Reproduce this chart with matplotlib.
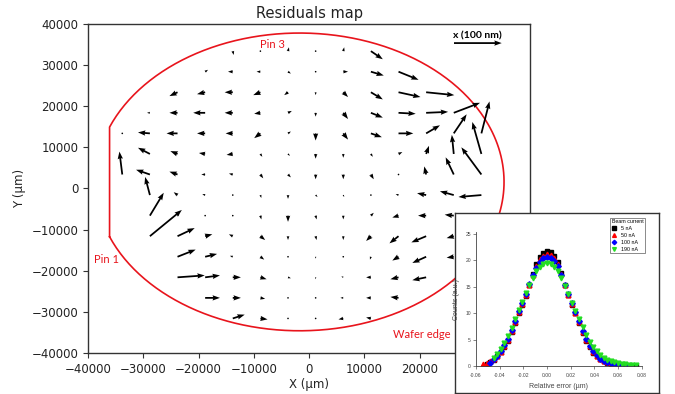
import numpy as np
import matplotlib
matplotlib.use("Agg")
import matplotlib.pyplot as plt

# --- residual vectors (nm) on the die grid, one list per grid row ----------
row_y = [33400, 28400, 23400, 18400, 13400, 8400, 3400,
         -1600, -6600, -11600, -16600, -21600, -26600, -31600]
row_x = [
    [-13800, -8800, -3800, 1200, 6200, 11200],
    [-18800, -13800, -8800, -3800, 1200, 6200, 11200, 16200],
    [-23800, -18800, -13800, -8800, -3800, 1200, 6200, 11200, 16200, 21200],
    [-28800, -23800, -18800, -13800, -8800, -3800, 1200, 6200, 11200, 16200, 21200, 26200],
    [-33800, -28800, -23800, -18800, -13800, -8800, -3800, 1200, 6200, 11200, 16200, 21200, 26200, 31200],
    [-28800, -23800, -18800, -13800, -8800, -3800, 1200, 6200, 11200, 16200, 21200, 26200, 31200],
    [-33800, -28800, -23800, -18800, -13800, -8800, -3800, 1200, 6200, 11200, 16200, 21200, 26200, 31200],
    [-28800, -23800, -18800, -13800, -8800, -3800, 1200, 6200, 11200, 16200, 21200, 26200, 31200],
    [-28800, -23800, -18800, -13800, -8800, -3800, 1200, 6200, 11200, 16200, 21200, 26200],
    [-28800, -23800, -18800, -13800, -8800, -3800, 1200, 6200, 11200, 16200, 21200, 26200],
    [-23800, -18800, -13800, -8800, -3800, 1200, 6200, 11200, 16200, 21200, 26200],
    [-23800, -18800, -13800, -8800, -3800, 1200, 6200, 11200, 16200, 21200],
    [-18800, -13800, -8800, -3800, 1200, 6200, 11200, 16200],
    [-13800, -8800, -3800, 1200, 6200, 11200],
]
row_u = [
    [2, 1, 2, 0, 2, 25],
    [6, -10, -8, 6, 2, 10, 27, 42],
    [-17, -17, -17, -15, -8, 0, 10, 25, 46, 59],
    [-6, -17, -25, -17, -13, 8, 0, 10, 25, 36, 46, 55],
    [-2, -25, -23, -17, -15, -13, 6, 0, 10, 23, 31, 29, 27, 17],
    [-25, -15, -13, -13, 4, 4, 0, 0, 4, 8, 6, -4, -19],
    [-6, -29, -17, -8, -8, 6, 6, 0, 0, 6, 1, -4, -17, -42],
    [-10, -8, -6, 0, 2, 0, 4, 2, 1, -6, -19, -29, -48],
    [29, 4, 1, 0, 2, 0, 2, 0, 6, -13, -17, -19],
    [67, 36, 15, -8, 10, 0, 2, 0, -10, -19, -31, -15],
    [38, 25, -6, 8, 0, 0, 1, -2, -13, -29, -15],
    [57, 31, 17, 13, 6, 0, -4, -10, -17, -29],
    [31, 17, 10, 1, 1, -6, -10, -17],
    [25, 15, 1, 1, -10, -10],
]
row_v = [
    [-8, 2, 8, 1, 8, -17],
    [4, 0, 0, -4, -2, 0, -8, -17],
    [-8, -4, 0, -6, -6, -6, -10, -15, -10, -6],
    [0, 0, 0, 0, -2, 4, -8, -13, -10, -2, 2, 21],
    [0, 2, 0, 0, 0, -10, 4, -15, -13, -8, 0, 17, 40, 67],
    [13, 6, 2, -2, -6, -4, -10, -8, -6, 4, 17, 40, 67],
    [48, 10, 6, 0, 2, -8, -6, -10, -10, -10, 1, 17, 36, 57],
    [38, 6, 2, 1, -6, -8, -4, -4, 0, 2, 4, 8, -4],
    [48, 4, 1, -2, -8, -13, -8, -8, 6, -4, 0, 2],
    [55, 17, 4, 4, -8, -8, -8, -8, -10, -15, -13, -4],
    [15, 6, 2, -6, -2, -4, 0, -6, -8, -13, -2],
    [4, 4, 0, -4, -2, -4, 2, 0, -4, -6],
    [0, 0, -2, 0, 0, 0, 0, 2],
    [8, -2, 0, 0, -2, 2],
]

# wafer outline (µm): ellipse with a flat on the left
wafer_cx, wafer_cy = -1700, 1600
wafer_rx, wafer_ry = 37000, 36200
flat_x = -36100

# --- inset: histogram of relative error -----------------------------------
err_x = [-0.054, -0.051, -0.048, -0.045, -0.042, -0.039, -0.036, -0.033, -0.030,
         -0.027, -0.024, -0.021, -0.018, -0.015, -0.012, -0.009, -0.006, -0.003,
         0.000, 0.003, 0.006, 0.009, 0.012, 0.015, 0.018, 0.021, 0.024, 0.027,
         0.030, 0.033, 0.036, 0.039, 0.042, 0.045, 0.048, 0.051, 0.054, 0.057,
         0.060, 0.063, 0.066, 0.069, 0.072, 0.075]
nan = np.nan
counts_5nA = [nan, 0.4, 0.8, 1.2, 1.8, 2.6, 3.6, 4.8, 6.4, 8.2, 10.0, 11.6, 13.3,
              15.4, 17.5, 19.3, 20.6, 21.4, 21.7, 21.5, 20.8, 19.6, 17.6, 15.3,
              13.4, 11.6, 10.0, 8.2, 6.3, 4.7, 3.5, 2.5, 1.8, 1.3, 0.9, 0.6, 0.4,
              0.3, 0.2, 0.15, 0.1, 0.05, 0.02, 0.0]
counts_50nA = [0.3, 0.5, 0.9, 1.3, 1.9, 2.7, 3.8, 5.0, 6.6, 8.4, 10.2, 11.8, 13.5,
               15.4, 17.3, 18.9, 20.2, 20.9, 21.2, 21.0, 20.4, 19.3, 17.5, 15.4,
               13.5, 11.8, 10.1, 8.4, 6.5, 4.9, 3.7, 2.7, 1.9, 1.4, 1.0, 0.7, 0.5,
               0.35, 0.25, 0.15, 0.1, 0.05, nan, nan]
counts_100nA = [nan, nan, 0.6, 1.3, 1.9, 2.8, 3.9, 5.2, 6.8, 8.6, 10.4, 12.0, 13.7,
                15.5, 17.2, 18.6, 19.7, 20.4, 20.6, 20.4, 19.9, 18.9, 17.3, 15.4,
                13.6, 11.9, 10.2, 8.5, 6.7, 5.1, 3.8, 2.8, 2.0, 1.4, 1.0, 0.7, 0.5,
                0.35, 0.25, 0.2, 0.1, 0.05, nan, nan]
counts_190nA = [nan, nan, nan, 1.6, 2.3, 3.2, 4.3, 5.6, 7.2, 8.9, 10.6, 12.2, 13.8,
                15.3, 16.7, 17.9, 18.8, 19.3, 19.4, 19.3, 18.8, 17.9, 16.6, 15.1,
                13.6, 12.0, 10.5, 8.9, 7.3, 5.9, 4.6, 3.6, 2.8, 2.1, 1.6, 1.2, 0.9,
                0.7, 0.5, 0.4, 0.3, 0.25, 0.15, 0.1]
beam_labels = ["5 nA", "50 nA", "100 nA", "190 nA"]

# --- figure ---------------------------------------------------------------
fig = plt.figure(figsize=(6.75, 3.94), dpi=100)
ax = fig.add_axes([0.1304, 0.1041, 0.6548, 0.8350])

spine_col = "#333333"
for s in ax.spines.values():
    s.set_color(spine_col)
    s.set_linewidth(1.0)

t0 = np.arccos((wafer_cx - flat_x) / wafer_rx)
t = np.linspace(np.pi + t0, 3 * np.pi - t0, 400)
wx = wafer_cx + wafer_rx * np.cos(t)
wy = wafer_cy + wafer_ry * np.sin(t)
wx = np.append(wx, wx[0])
wy = np.append(wy, wy[0])
ax.plot(wx, wy, color="#e8141c", lw=1.2, zorder=1)

X = np.concatenate([np.asarray(r, float) for r in row_x])
Y = np.concatenate([np.full(len(r), y, float) for r, y in zip(row_x, row_y)])
U = np.concatenate([np.asarray(r, float) for r in row_u])
V = np.concatenate([np.asarray(r, float) for r in row_v])

q = ax.quiver(X, Y, U, V, angles="uv", scale_units="inches", scale=209.6,
              width=0.004, headwidth=3.0, headlength=4.2, headaxislength=3.8,
              color="black", zorder=3)
ax.quiverkey(q, 0.882, 0.942, 100, "x (100 nm)", labelpos="N", coordinates="axes",
             labelsep=0.03,
             fontproperties={"weight": "bold", "size": 7.5, "family": "Lato"})

red_font = dict(color="#e8141c", fontsize=8, family="Lato")
ax.text(-6600, 35000, "Pin 3", ha="center", va="center", **red_font)
ax.text(-36600, -17300, "Pin 1", ha="center", va="center", **red_font)
ax.text(20400, -35500, "Wafer edge", ha="center", va="center", **red_font)

ax.set_xlim(-40000, 40000)
ax.set_ylim(-40000, 40000)
xt = np.arange(-40000, 40001, 10000)
ax.set_xticks(xt)
# the last two x labels sit under the inset, so they are left blank
ax.set_xticklabels([f"{v:d}".replace("-", "\u2212") if v < 30000 else "" for v in xt])
ax.set_yticks(np.arange(-40000, 40001, 10000))
ax.tick_params(labelsize=8.5, length=3.5, width=0.8, color=spine_col,
               labelcolor="#222222")
ax.set_xlabel("X (µm)", fontsize=8.5, color="#222222", labelpad=2)
ax.set_ylabel("Y (µm)", fontsize=8.5, color="#222222")
ax.set_title("Residuals map", fontsize=10.5, color="#222222", pad=4)

# inset frame
frame = fig.add_axes([0.674, 0.0025, 0.3027, 0.4576])
frame.set_xticks([])
frame.set_yticks([])
for s in frame.spines.values():
    s.set_color(spine_col)
    s.set_linewidth(1.0)

ins = fig.add_axes([0.7052, 0.0711, 0.2455, 0.3393])
ins.patch.set_alpha(0)
series = [
    (counts_5nA, "black", "s"),
    (counts_50nA, "red", "^"),
    (counts_100nA, "blue", "D"),
    (counts_190nA, "#22dd22", "v"),
]
for (vals, col, mk), lab in zip(series, beam_labels):
    ins.plot(err_x, vals, ls="none", marker=mk, ms=3.4 if mk != "D" else 2.8,
             color=col, mec=col, label=lab)
ins.set_xlim(-0.06, 0.08)
ins.set_ylim(0, 25.3)
ins.set_xticks(np.arange(-0.06, 0.081, 0.02))
ins.set_xticklabels(["-0.06", "-0.04", "-0.02", "0.00", "0.02", "0.04", "0.06", "0.08"])
ins.set_yticks([0, 5, 10, 15, 20, 25])
for s in ("top", "right"):
    ins.spines[s].set_visible(False)
for s in ("left", "bottom"):
    ins.spines[s].set_linewidth(0.6)
    ins.spines[s].set_color("#444444")
ins.tick_params(labelsize=3.6, length=2, width=0.5, colors="#555555",
                labelcolor="#444444")
ins.tick_params(axis="x", pad=2.8)
ins.tick_params(axis="y", pad=1.6)
for lbl in ins.get_xticklabels() + ins.get_yticklabels():
    lbl.set_family("Liberation Sans")
ins.set_xlabel("Relative error (µm)", fontsize=5, family="Liberation Sans",
               color="#444444", labelpad=3.5)
ins.set_ylabel("Counts (a.u.)", fontsize=5, family="Liberation Sans",
               color="#444444", labelpad=4)
leg = ins.legend(title="Beam current", loc="upper right",
                 bbox_to_anchor=(0.9556, 0.4475), bbox_transform=fig.transFigure,
                 prop={"size": 3.8, "family": "Liberation Sans"},
                 title_fontproperties={"size": 3.8, "family": "Liberation Sans"},
                 alignment="left", frameon=True, fancybox=False,
                 handlelength=1.0, handletextpad=0.8, borderpad=0.3,
                 labelspacing=0.35, markerscale=0.8, borderaxespad=0)
leg.get_frame().set_edgecolor("#333333")
leg.get_frame().set_linewidth(0.5)

fig.savefig("out.png", dpi=100)
